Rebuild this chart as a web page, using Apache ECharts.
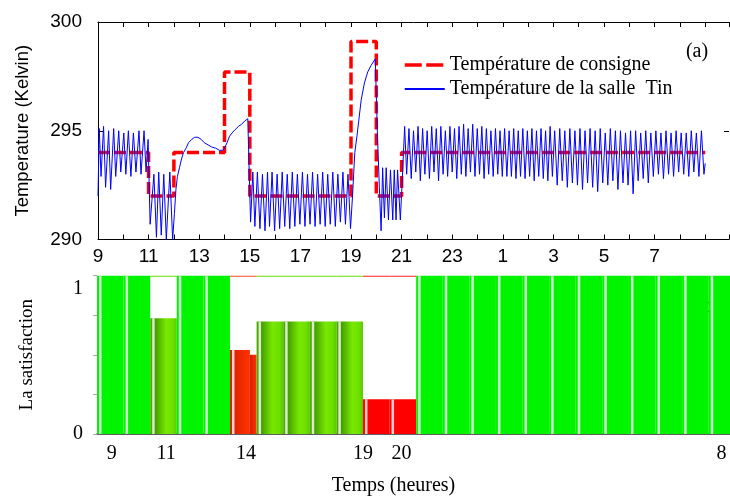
<!DOCTYPE html>
<html><head><meta charset="utf-8">
<script src="https://cdn.jsdelivr.net/npm/echarts@6/dist/echarts.min.js"></script>
<style>html,body{margin:0;padding:0;background:#fff}#c{width:730px;height:497px}</style>
</head><body><div id="c"></div>
<script>
// ---------- data ----------
const topTickHours = [9, 11, 13, 15, 17, 19, 21, 23, 25, 27, 29, 31];
const topTickLabels = ['9', '11', '13', '15', '17', '19', '21', '23', '1', '3', '5', '7'];
const tempTicks = [290, 295, 300];

const setpointHours = [9, 11, 12, 14, 15, 19, 20, 21, 33];
const setpointTemps = [294, 292, 294, 297.7, 292, 299.1, 292, 294, 294];

const tinMorning = [[9.00,292.0],[9.05,295.1],[9.12,292.9],[9.22,295.2],[9.30,292.4],[9.42,295.0],[9.50,292.3],[9.62,295.1],[9.70,292.9],[9.82,295.0],[9.90,293.1],[10.02,294.9],[10.10,293.0],[10.20,295.0],[10.30,292.9],[10.40,294.9],[10.50,293.1],[10.62,295.0],[10.70,293.0],[10.82,295.0],[10.90,293.1],[10.98,294.6]];
const tinLowA = [[11.06,290.7],[11.21,293.0],[11.31,290.1],[11.40,293.1],[11.50,290.2],[11.60,293.0],[11.70,290.0],[11.84,293.1],[11.95,290.0]];
const tinMidday = [[12.02,291.2],[12.08,292.3],[12.14,292.9],[12.22,293.3],[12.30,293.7],[12.38,294.0],[12.48,294.2],[12.58,294.45],[12.70,294.6],[12.82,294.7],[12.95,294.7],[13.08,294.6],[13.20,294.45],[13.35,294.35],[13.50,294.25],[13.65,294.2],[13.80,294.1],[13.93,294.1],[14.00,294.2],[14.10,294.45],[14.20,294.75],[14.30,294.9],[14.42,295.05],[14.55,295.2],[14.68,295.3],[14.80,295.45],[14.92,295.55],[14.98,295.6]];
const tinAfternoon = [[15.03,290.8],[15.12,293.1],[15.20,290.6],[15.30,293.1],[15.40,290.5],[15.50,293.0],[15.60,290.4],[15.70,293.1],[15.78,290.6],[15.88,293.1],[15.98,290.4],[16.08,293.0],[16.18,290.5],[16.28,293.1],[16.38,290.6],[16.48,293.0],[16.58,290.5],[16.68,293.1],[16.78,290.6],[16.88,293.0],[16.98,290.7],[17.08,293.1],[17.18,290.6],[17.28,293.0],[17.38,290.7],[17.48,293.1],[17.58,290.6],[17.68,293.0],[17.78,290.7],[17.88,293.1],[17.98,290.6],[18.08,293.0],[18.18,290.7],[18.28,293.1],[18.38,290.6],[18.48,293.0],[18.58,290.8],[18.68,293.1],[18.78,290.7],[18.88,293.0],[18.98,290.5]];
const tinEvening = [[19.06,292.0],[19.15,294.0],[19.24,294.8],[19.30,295.4],[19.40,296.4],[19.53,297.2],[19.66,297.7],[19.79,298.0],[19.96,298.3],[20.04,295.0],[20.12,292.4],[20.19,290.4]];
const tinLowB = [[20.25,293.3],[20.32,291.0],[20.39,293.3],[20.48,290.9],[20.56,293.2],[20.65,290.9],[20.71,293.2],[20.78,290.9],[20.84,293.2],[20.95,290.9],[21.02,292.6]];
const tinNight = [[21.12,295.2],[21.20,293.0],[21.29,295.1],[21.38,292.8],[21.47,295.0],[21.56,293.1],[21.65,295.2],[21.74,292.7],[21.83,295.1],[21.92,293.0],[22.01,295.0],[22.10,292.8],[22.19,295.2],[22.28,293.1],[22.37,295.1],[22.46,292.7],[22.55,295.2],[22.64,293.0],[22.73,295.0],[22.82,292.9],[22.91,295.2],[23.00,293.1],[23.09,295.1],[23.18,292.8],[23.27,295.2],[23.36,293.0],[23.45,295.3],[23.54,292.9],[23.63,295.1],[23.72,293.1],[23.81,295.3],[23.90,292.9],[23.99,295.1],[24.08,293.0],[24.17,295.2],[24.26,292.8],[24.35,295.1],[24.44,293.0],[24.53,295.0],[24.62,292.9],[24.71,295.1],[24.80,293.0],[24.89,295.0],[24.98,292.9],[25.07,295.1],[25.16,292.9],[25.25,295.0],[25.34,292.9],[25.43,295.1],[25.52,292.8],[25.61,295.0],[25.70,292.9],[25.79,295.1],[25.88,292.8],[25.97,295.0],[26.06,292.9],[26.15,295.1],[26.24,292.7],[26.33,295.0],[26.42,292.9],[26.51,295.1],[26.60,292.8],[26.69,295.0],[26.78,292.7],[26.87,295.2],[26.96,292.9],[27.05,295.0],[27.15,292.5],[27.25,295.1],[27.35,292.7],[27.45,295.0],[27.55,292.4],[27.65,295.1],[27.75,292.6],[27.85,295.0],[27.95,292.5],[28.05,295.1],[28.15,292.3],[28.25,295.0],[28.35,292.6],[28.45,295.1],[28.55,292.4],[28.65,295.0],[28.75,292.2],[28.85,295.1],[28.95,292.6],[29.05,294.9],[29.15,292.5],[29.25,295.1],[29.35,292.7],[29.45,295.0],[29.55,292.3],[29.65,295.0],[29.75,292.6],[29.85,294.9],[29.95,292.5],[30.05,295.0],[30.15,292.1],[30.25,295.0],[30.35,292.7],[30.45,294.9],[30.55,292.8],[30.65,295.0],[30.75,292.6],[30.85,294.9],[30.95,292.9],[31.05,295.0],[31.15,293.0],[31.25,294.9],[31.35,292.8],[31.45,295.0],[31.55,293.0],[31.65,294.9],[31.75,292.9],[31.85,295.0],[31.95,293.1],[32.05,294.9],[32.15,293.0],[32.25,294.9],[32.35,292.9],[32.45,295.0],[32.55,293.1],[32.65,294.9],[32.75,292.9],[32.85,295.0],[32.95,293.0],[33.00,293.5]];

const satStart = [9, 10, 11, 12, 13, 14, 14.75, 15, 16, 17, 18, 19, 20, 21, 22, 23, 24, 25, 26, 27, 28, 29, 30, 31, 32];
const satValue = [1, 1, 0.73, 1, 1, 0.53, 0.50, 0.71, 0.71, 0.71, 0.71, 0.22, 0.22, 1, 1, 1, 1, 1, 1, 1, 1, 1, 1, 1, 1];
const satLastEnd = 33;
const bottomTickHours = [9.55, 11.6, 14.6, 19, 20.45, 32.48];
const bottomTickLabels = ['9', '11', '14', '19', '20', '8'];
const satTickValues = [0, 1];
const satTickLabels = ['0', '1'];

// ---------- build ----------
const SANS = '"Liberation Sans", Arial, sans-serif';
const SERIF = '"Liberation Serif", "Times New Roman", serif';

const setpointData = setpointHours.map((h, i) => [h, setpointTemps[i]]);
const tinData = [].concat(tinMorning, tinLowA, tinMidday, tinAfternoon, tinEvening, tinLowB, tinNight);
const satData = satStart.map((s, i) => [s, i < satStart.length - 1 ? satStart[i + 1] : satLastEnd, satValue[i]]);

function lookup(vals, labels, v) {
  for (let i = 0; i < vals.length; i++) if (Math.abs(vals[i] - v) < 1e-6) return labels[i];
  return '';
}
function grad(stops) {
  return {type: 'linear', x: 0, y: 0, x2: 1, y2: 0, global: false,
    colorStops: stops.map(s => ({offset: s[0], color: s[1]}))};
}
function bandFill(v) {
  if (v >= 0.95) return '#00f400';
  if (v >= 0.65) return grad([[0, '#52b200'], [0.15, '#3f9800'], [0.6, '#78e800'], [0.85, '#6ee000'], [1, '#5ac800']]);
  if (v >= 0.4) return grad([[0, '#d42000'], [0.5, '#ec2800'], [1, '#ff3300']]);
  return '#ff0000';
}
function edgeColor(v) {
  if (v >= 0.65) return '#66dd00';
  if (v >= 0.4) return '#ff4a20';
  return '#ff2020';
}

function renderBar(params, api) {
  const s = api.value(0), e = api.value(1), v = api.value(2);
  const pb = api.coord([s, 0]);
  const pt = api.coord([e, v]);
  const p1 = api.coord([s, 1]);
  const x0 = pb[0], x1 = pt[0], yb = pb[1], yt = pt[1];
  const children = [{type: 'rect', shape: {x: x0, y: yt, width: x1 - x0, height: yb - yt}, style: {fill: bandFill(v)}}];
  if (Math.abs(s - Math.round(s)) < 1e-6) {
    children.push({type: 'rect', shape: {x: x0 + 2, y: yt, width: 2.5, height: yb - yt}, style: {fill: '#ffffff', opacity: 0.8}});
  }
  if (v < 0.95) {
    children.push({type: 'rect', shape: {x: x0, y: p1[1], width: x1 - x0, height: 1.3}, style: {fill: edgeColor(v)}});
  }
  return {type: 'group', children};
}

const chart = echarts.init(document.getElementById('c'), null, {renderer: 'canvas'});
const frameLine = {show: true, onZero: false, lineStyle: {color: '#000', width: 1}};
const inTick = {show: true, inside: true, length: 5, lineStyle: {color: '#000', width: 1}};
const noSymbol = {opacity: 0, color: 'rgba(0,0,0,0)', borderWidth: 0};

chart.setOption({
  animation: false,
  grid: [
    {left: 98, top: 22, width: 631, height: 217.5},
    {left: 97, top: 275.5, width: 633, height: 161.2}
  ],
  xAxis: [
    {gridIndex: 0, type: 'value', min: 9, max: 33.94, interval: 1, position: 'bottom',
     axisLine: frameLine, axisTick: inTick, splitLine: {show: false},
     axisLabel: {customValues: topTickHours, formatter: v => lookup(topTickHours, topTickLabels, v),
       fontFamily: SANS, fontSize: 19, color: '#000', margin: 8}},
    {gridIndex: 0, type: 'value', min: 9, max: 33.94, interval: 1, position: 'top',
     axisLine: frameLine, axisTick: inTick, splitLine: {show: false}, axisLabel: {show: false}},
    {gridIndex: 1, type: 'value', min: 9, max: 32.8, position: 'bottom',
     axisLine: {show: true, onZero: false, lineStyle: {color: '#2a2a2a', width: 1.5}},
     axisTick: {show: false}, splitLine: {show: false},
     axisLabel: {customValues: bottomTickHours, formatter: v => lookup(bottomTickHours, bottomTickLabels, v),
       fontFamily: SERIF, fontSize: 20, color: '#000', margin: 10},
     name: 'Temps (heures)', nameLocation: 'middle', nameGap: 42,
     nameTextStyle: {fontFamily: SERIF, fontSize: 20, color: '#000', padding: [0, 40, 0, 0]}}
  ],
  yAxis: [
    {gridIndex: 0, type: 'value', min: 290, max: 300, interval: 5,
     axisLine: frameLine, axisTick: inTick, splitLine: {show: false},
     axisLabel: {customValues: tempTicks, fontFamily: SANS, fontSize: 19, color: '#000', margin: 16},
     name: 'Temperature (Kelvin)', nameLocation: 'middle', nameGap: 66,
     nameTextStyle: {fontFamily: SANS, fontSize: 18.5, color: '#000'}},
    {gridIndex: 0, type: 'value', min: 290, max: 300, interval: 5, position: 'right',
     axisLine: {show: false}, axisTick: inTick, splitLine: {show: false}, axisLabel: {show: false}},
    {gridIndex: 1, type: 'value', min: 0, max: 1, interval: 0.25,
     axisLine: {show: false}, axisTick: {show: true, length: 4, lineStyle: {color: '#aaa'}},
     splitLine: {show: false},
     axisLabel: {customValues: satTickValues, margin: 14, color: '#000', fontFamily: SERIF, fontSize: 20,
       formatter: v => { const t = lookup(satTickValues, satTickLabels, v); return v > 0.5 ? '{one|' + t + '}' : '{zero|' + t + '}'; },
       rich: {one: {fontFamily: SERIF, fontSize: 20, color: '#000', padding: [27, 0, 0, 0]},
              zero: {fontFamily: SERIF, fontSize: 20, color: '#000'}}},
     name: 'La satisfaction', nameLocation: 'middle', nameGap: 60,
     nameTextStyle: {fontFamily: SERIF, fontSize: 19, color: '#000'}}
  ],
  legend: {
    orient: 'vertical', left: 398, top: 50, itemGap: 4, itemWidth: 40, itemHeight: 14,
    selectedMode: false,
    textStyle: {fontFamily: SERIF, fontSize: 20, color: '#000'},
    data: [
      {name: 'Température de consigne', itemStyle: noSymbol, lineStyle: {width: 3.5, type: [17, 4.5], color: '#ff0000'}},
      {name: 'Température de la salle  Tin', itemStyle: noSymbol, lineStyle: {width: 2, color: '#0000ff'}}
    ]
  },
  graphic: [
    {type: 'text', x: 697, y: 52, style: {text: '(a)', font: '20px ' + SERIF, fill: '#000', align: 'center', verticalAlign: 'middle'}},
    {type: 'text', x: 708, y: 307, style: {text: '(b)', font: '20px ' + SERIF, fill: '#000', align: 'center', verticalAlign: 'middle'}}
  ],
  series: [
    {name: 'Température de consigne', type: 'line', xAxisIndex: 0, yAxisIndex: 0, step: 'end',
     data: setpointData, symbol: 'none', showSymbol: false, z: 2,
     lineStyle: {color: '#ff0000', width: 3.5, type: [12, 4]}, itemStyle: {color: '#ff0000'}},
    {name: 'Température de la salle  Tin', type: 'line', xAxisIndex: 0, yAxisIndex: 0,
     data: tinData, symbol: 'none', showSymbol: false, z: 3,
     lineStyle: {color: '#0000ff', width: 1}, itemStyle: {color: '#0000ff'}},
    {name: 'satisfaction', type: 'custom', xAxisIndex: 2, yAxisIndex: 2, clip: true,
     renderItem: renderBar, data: satData, encode: {x: [0, 1], y: 2}}
  ]
});
</script>
</body></html>
